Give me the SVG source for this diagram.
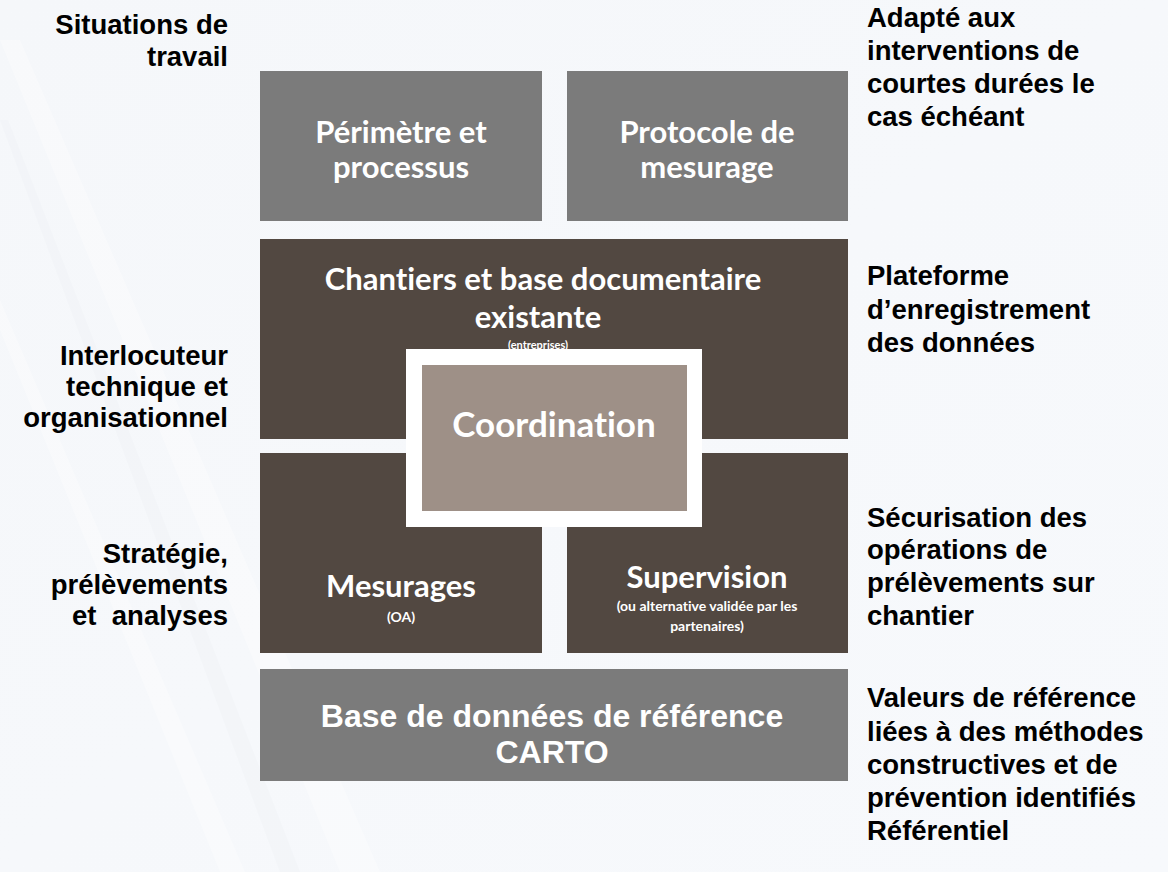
<svg xmlns="http://www.w3.org/2000/svg" width="1168" height="872" viewBox="0 0 1168 872">
  <defs>
    <linearGradient id="bg" x1="0" y1="0" x2="1" y2="1">
      <stop offset="0" stop-color="#f5f7fa"/>
      <stop offset="1" stop-color="#f7f9fc"/>
    </linearGradient>
    <style>
      .lbl { font-family: "Liberation Sans", Arial, sans-serif; font-weight: bold; font-size: 27.5px; fill: #000; }
      .lr { text-anchor: end; }
      .box-grey { fill: #7b7b7b; }
      .box-dark { fill: #524841; }
      .box-coord { fill: #9e9087; }
      .frame { fill: #ffffff; }
      .bt { font-family: Lato, "Open Sans", sans-serif; font-weight: bold; fill: #ffffff; text-anchor: middle; font-variant-ligatures: none; }
      .big { font-size: 31px; }
      .small { font-size: 11px; }
      .mid { font-size: 14px; }
      .arial { font-family: "Liberation Sans", Arial, sans-serif; font-weight: bold; fill: #ffffff; text-anchor: middle; font-size: 32px; }
    </style>
  </defs>

  <rect x="0" y="0" width="1168" height="872" fill="url(#bg)"/>
  <g id="streaks" opacity="0.35">
    <polygon points="0,40 20,40 380,872 340,872" fill="#ffffff"/>
    <polygon points="0,120 8,120 300,872 280,872" fill="#eef1f5"/>
    <polygon points="0,300 0,330 220,872 245,872" fill="#ffffff"/>
  </g>

  <g id="connectors"/>

  <g id="node-perimetre">
    <rect class="box-grey" x="260" y="71" width="282" height="150"/>
    <text class="bt big" x="401" y="143">Périmètre et</text>
    <text class="bt big" x="401" y="178">processus</text>
  </g>

  <g id="node-protocole">
    <rect class="box-grey" x="567" y="71" width="281" height="150"/>
    <text class="bt big" x="707" y="143">Protocole de</text>
    <text class="bt big" x="707" y="178">mesurage</text>
  </g>

  <g id="node-chantiers">
    <rect class="box-dark" x="260" y="239" width="588" height="200"/>
    <text class="bt big" x="543" y="290">Chantiers et base documentaire</text>
    <text class="bt big" x="538" y="328">existante</text>
    <text class="bt small" x="538" y="349">(entreprises)</text>
  </g>

  <g id="node-mesurages">
    <rect class="box-dark" x="260" y="453" width="282" height="200"/>
    <text class="bt big" x="401" y="597">Mesurages</text>
    <text class="bt mid" x="401" y="622">(OA)</text>
  </g>

  <g id="node-supervision">
    <rect class="box-dark" x="567" y="453" width="281" height="200"/>
    <text class="bt big" x="707" y="588">Supervision</text>
    <text class="bt mid" x="707" y="611">(ou alternative validée par les</text>
    <text class="bt mid" x="707" y="631">partenaires)</text>
  </g>

  <g id="node-coordination">
    <rect class="frame" x="406" y="349" width="296" height="178"/>
    <rect class="box-coord" x="422" y="365" width="265" height="146"/>
    <text class="bt" x="554" y="437" font-size="35">Coordination</text>
  </g>

  <g id="node-base">
    <rect class="box-grey" x="260" y="669" width="588" height="112"/>
    <text class="arial" x="552" y="727">Base de données de référence</text>
    <text class="arial" x="552" y="763">CARTO</text>
  </g>

  <g id="labels-left">
    <text class="lbl lr" x="228" y="34">Situations de</text>
    <text class="lbl lr" x="228" y="66">travail</text>
    <text class="lbl lr" x="228" y="365">Interlocuteur</text>
    <text class="lbl lr" x="228" y="396">technique et</text>
    <text class="lbl lr" x="228" y="427">organisationnel</text>
    <text class="lbl lr" x="228" y="563">Stratégie,</text>
    <text class="lbl lr" x="228" y="594">prélèvements</text>
    <text class="lbl lr" x="228" y="625" xml:space="preserve">et  analyses</text>
  </g>

  <g id="labels-right">
    <text class="lbl" x="867" y="27">Adapté aux</text>
    <text class="lbl" x="867" y="60">interventions de</text>
    <text class="lbl" x="867" y="93">courtes durées le</text>
    <text class="lbl" x="867" y="126">cas échéant</text>
    <text class="lbl" x="867" y="285">Plateforme</text>
    <text class="lbl" x="867" y="319">d’enregistrement</text>
    <text class="lbl" x="867" y="352">des données</text>
    <text class="lbl" x="867" y="527">Sécurisation des</text>
    <text class="lbl" x="867" y="559">opérations de</text>
    <text class="lbl" x="867" y="592">prélèvements sur</text>
    <text class="lbl" x="867" y="625">chantier</text>
    <text class="lbl" x="867" y="707">Valeurs de référence</text>
    <text class="lbl" x="867" y="741">liées à des méthodes</text>
    <text class="lbl" x="867" y="774">constructives et de</text>
    <text class="lbl" x="867" y="807">prévention identifiés</text>
    <text class="lbl" x="867" y="840">Référentiel</text>
  </g>
</svg>
